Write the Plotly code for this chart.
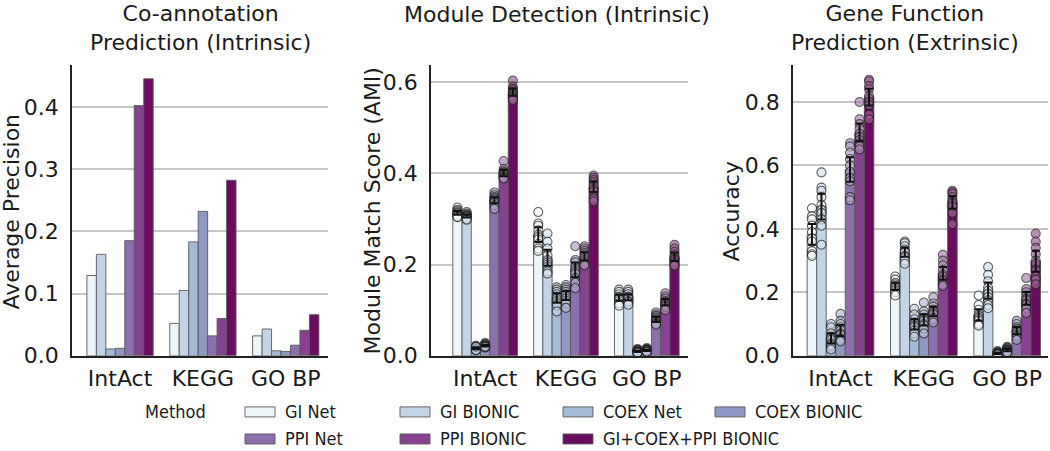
import numpy as np
import plotly.graph_objects as go

# The photographed area turned out to be ~465 CSS px tall, squeezed to 451,
# so the figure is 1050x465 and positions are given in reference pixels (of 451).
W, H_REF = 1050, 451
H = 465

categories = ["IntAct", "KEGG", "GO BP"]
methods = ["GI Net", "GI BIONIC", "COEX Net", "COEX BIONIC",
           "PPI Net", "PPI BIONIC", "GI+COEX+PPI BIONIC"]
colors = ["#eef5f9", "#c3d4e7", "#a3bbd6", "#8f98c4",
          "#8b70ad", "#85428f", "#6a0d60"]

# Panel 1: Co-annotation prediction, average precision (one value per method)
ap_intact = [0.129, 0.163, 0.011, 0.012, 0.185, 0.402, 0.445]
ap_kegg = [0.052, 0.105, 0.183, 0.232, 0.032, 0.060, 0.282]
ap_gobp = [0.032, 0.043, 0.008, 0.007, 0.017, 0.041, 0.066]

# Panel 2: Module detection, AMI per trial (methods x trials)
ami_intact = [
    [0.325, 0.320, 0.318, 0.315, 0.313, 0.312, 0.310, 0.308, 0.305, 0.304],
    [0.315, 0.312, 0.310, 0.308, 0.307, 0.306, 0.305, 0.303, 0.300, 0.298],
    [0.022, 0.020, 0.018, 0.017, 0.016, 0.015, 0.014, 0.013, 0.012, 0.020],
    [0.028, 0.026, 0.024, 0.023, 0.022, 0.021, 0.020, 0.019, 0.018, 0.020],
    [0.358, 0.352, 0.348, 0.345, 0.343, 0.340, 0.338, 0.335, 0.330, 0.322],
    [0.427, 0.410, 0.405, 0.402, 0.400, 0.398, 0.395, 0.392, 0.390, 0.388],
    [0.603, 0.590, 0.585, 0.582, 0.578, 0.575, 0.572, 0.568, 0.565, 0.560],
]
ami_kegg = [
    [0.315, 0.290, 0.285, 0.275, 0.265, 0.260, 0.255, 0.245, 0.235, 0.230],
    [0.268, 0.250, 0.235, 0.220, 0.210, 0.205, 0.200, 0.195, 0.185, 0.180],
    [0.150, 0.145, 0.140, 0.135, 0.130, 0.125, 0.120, 0.115, 0.110, 0.097],
    [0.155, 0.150, 0.145, 0.140, 0.135, 0.130, 0.125, 0.120, 0.115, 0.105],
    [0.240, 0.210, 0.205, 0.195, 0.190, 0.185, 0.180, 0.170, 0.160, 0.148],
    [0.240, 0.235, 0.230, 0.225, 0.220, 0.215, 0.210, 0.205, 0.200, 0.198],
    [0.395, 0.390, 0.385, 0.380, 0.375, 0.370, 0.365, 0.360, 0.345, 0.338],
]
ami_gobp = [
    [0.145, 0.140, 0.135, 0.130, 0.128, 0.126, 0.124, 0.120, 0.115, 0.110],
    [0.145, 0.140, 0.135, 0.130, 0.128, 0.127, 0.125, 0.120, 0.118, 0.112],
    [0.015, 0.013, 0.012, 0.011, 0.010, 0.009, 0.008, 0.008, 0.007, 0.007],
    [0.017, 0.015, 0.014, 0.013, 0.012, 0.011, 0.010, 0.010, 0.009, 0.009],
    [0.095, 0.090, 0.087, 0.083, 0.080, 0.078, 0.075, 0.072, 0.070, 0.068],
    [0.137, 0.130, 0.125, 0.120, 0.118, 0.115, 0.113, 0.110, 0.107, 0.100],
    [0.243, 0.235, 0.228, 0.222, 0.217, 0.213, 0.210, 0.205, 0.200, 0.197],
]

# Panel 3: Gene function prediction, accuracy per trial (methods x trials)
acc_intact = [
    [0.465, 0.440, 0.430, 0.410, 0.390, 0.370, 0.360, 0.330, 0.320, 0.315],
    [0.578, 0.530, 0.520, 0.500, 0.475, 0.460, 0.450, 0.430, 0.410, 0.350],
    [0.100, 0.090, 0.070, 0.060, 0.055, 0.050, 0.040, 0.035, 0.030, 0.020],
    [0.132, 0.110, 0.100, 0.090, 0.080, 0.070, 0.065, 0.055, 0.050, 0.045],
    [0.670, 0.660, 0.640, 0.620, 0.600, 0.580, 0.560, 0.550, 0.500, 0.490],
    [0.800, 0.745, 0.730, 0.715, 0.700, 0.690, 0.680, 0.670, 0.660, 0.650],
    [0.870, 0.865, 0.850, 0.840, 0.820, 0.810, 0.800, 0.790, 0.760, 0.745],
]
acc_kegg = [
    [0.250, 0.240, 0.230, 0.225, 0.220, 0.215, 0.210, 0.205, 0.200, 0.190],
    [0.360, 0.355, 0.345, 0.335, 0.330, 0.325, 0.315, 0.310, 0.300, 0.290],
    [0.148, 0.130, 0.115, 0.105, 0.100, 0.095, 0.090, 0.080, 0.070, 0.060],
    [0.168, 0.140, 0.130, 0.120, 0.115, 0.110, 0.100, 0.095, 0.085, 0.070],
    [0.185, 0.165, 0.155, 0.145, 0.140, 0.135, 0.130, 0.120, 0.115, 0.105],
    [0.318, 0.300, 0.285, 0.270, 0.255, 0.250, 0.240, 0.235, 0.225, 0.220],
    [0.520, 0.515, 0.510, 0.500, 0.490, 0.485, 0.480, 0.470, 0.450, 0.415],
]
acc_gobp = [
    [0.190, 0.160, 0.145, 0.130, 0.125, 0.120, 0.115, 0.110, 0.100, 0.095],
    [0.280, 0.255, 0.235, 0.215, 0.205, 0.195, 0.185, 0.175, 0.160, 0.150],
    [0.015, 0.012, 0.010, 0.009, 0.008, 0.007, 0.006, 0.005, 0.004, 0.004],
    [0.028, 0.025, 0.022, 0.020, 0.018, 0.017, 0.015, 0.013, 0.012, 0.010],
    [0.110, 0.100, 0.090, 0.085, 0.080, 0.078, 0.072, 0.065, 0.060, 0.050],
    [0.245, 0.210, 0.200, 0.190, 0.180, 0.175, 0.165, 0.160, 0.150, 0.135],
    [0.385, 0.360, 0.340, 0.320, 0.300, 0.290, 0.270, 0.250, 0.240, 0.225],
]

panel_titles = ["Co-annotation<br>Prediction (Intrinsic)",
                "Module Detection (Intrinsic)",
                "Gene Function<br>Prediction (Extrinsic)"]
y_titles = ["Average Precision", "Module Match Score (AMI)", "Accuracy"]
y_ticks = [[0.0, 0.1, 0.2, 0.3, 0.4], [0.0, 0.2, 0.4, 0.6], [0.0, 0.2, 0.4, 0.6, 0.8]]
y_ranges = [[0, 0.467], [0, 0.637], [0, 0.916]]


# ---------------- layout geometry (reference pixels -> paper) ----------------
def px_x(x):
    return x / W


def px_y(y):
    return 1 - y / H_REF


ax_px = [(72, 328), (431, 688), (793, 1048)]
x_ranges = [[-0.58, 2.51], [-0.67, 2.51], [-0.57, 2.49]]
top_px, bot_px = 65, 355
FONT = "DejaVu Sans"
TXT = "#1a1a1a"
FS = 22

n_m = len(methods)
bw = 0.8 / n_m


def lighten(hexc, f):
    h = hexc.lstrip("#")
    r, g, b = (int(h[i:i + 2], 16) for i in (0, 2, 4))
    r = int(r + (255 - r) * f)
    g = int(g + (255 - g) * f)
    b = int(b + (255 - b) * f)
    return f"rgb({r},{g},{b})"


fig = go.Figure()
EDGE = "rgba(90,90,90,0.9)"

# Panel 1 bars
ap_by_cat = [ap_intact, ap_kegg, ap_gobp]
for j, m in enumerate(methods):
    xs = [i + (j - (n_m - 1) / 2) * bw for i in range(len(categories))]
    fig.add_trace(go.Bar(
        x=xs, y=[ap_by_cat[i][j] for i in range(len(categories))],
        width=bw, marker=dict(color=colors[j], line=dict(color=EDGE, width=1)),
        name=m, showlegend=False, xaxis="x", yaxis="y"))

# Panels 2 and 3: bars + points + CI
for p, (data_cats, xa, ya) in enumerate([
        ([ami_intact, ami_kegg, ami_gobp], "x2", "y2"),
        ([acc_intact, acc_kegg, acc_gobp], "x3", "y3")]):
    for j, m in enumerate(methods):
        xs = [i + (j - (n_m - 1) / 2) * bw for i in range(len(categories))]
        vals = [np.array(data_cats[i][j]) for i in range(len(categories))]
        means = [float(v.mean()) for v in vals]
        ci = [float(1.96 * v.std(ddof=1) / np.sqrt(len(v))) for v in vals]
        fig.add_trace(go.Bar(
            x=xs, y=means, width=bw,
            marker=dict(color=colors[j], line=dict(color=EDGE, width=1)),
            name=m, showlegend=False, xaxis=xa, yaxis=ya))
        px_, py_ = [], []
        for i in range(len(categories)):
            px_ += [xs[i]] * len(vals[i])
            py_ += list(vals[i])
        fig.add_trace(go.Scatter(
            x=px_, y=py_, mode="markers",
            marker=dict(size=9, color=lighten(colors[j], 0.35), opacity=0.7,
                        line=dict(color="#222222", width=1.1)),
            showlegend=False, xaxis=xa, yaxis=ya, hoverinfo="skip"))
        fig.add_trace(go.Scatter(
            x=xs, y=means, mode="markers", marker=dict(size=1, color="rgba(0,0,0,0)"),
            error_y=dict(type="data", array=ci, color="#111111", thickness=2, width=4),
            showlegend=False, xaxis=xa, yaxis=ya, hoverinfo="skip"))

layout = dict(
    width=W, height=H, margin=dict(l=0, r=0, t=0, b=0),
    paper_bgcolor="white", plot_bgcolor="white",
    barmode="overlay", font=dict(family=FONT, color=TXT, size=FS),
    showlegend=False,
)
for k in range(3):
    sx = "" if k == 0 else str(k + 1)
    layout["xaxis" + sx] = dict(
        domain=[px_x(ax_px[k][0]), min(1.0, px_x(ax_px[k][1]))], range=x_ranges[k],
        anchor="y" + sx, tickvals=[0, 1, 2], ticktext=categories,
        showline=True, linecolor="#222222", linewidth=1.5, showgrid=False,
        ticks="outside", ticklen=2, tickcolor="rgba(0,0,0,0)",
        tickfont=dict(size=FS, family=FONT, color=TXT), zeroline=False, fixedrange=True)
    layout["yaxis" + sx] = dict(
        domain=[px_y(bot_px), px_y(top_px)], range=y_ranges[k], anchor="x" + sx,
        tickvals=y_ticks[k], ticktext=[f"{v:.1f}" for v in y_ticks[k]],
        showline=True, linecolor="#222222", linewidth=1.5,
        showgrid=True, gridcolor="#c4c4c4", gridwidth=1.5,
        ticks="outside", ticklen=7, tickcolor="rgba(0,0,0,0)",
        tickfont=dict(size=FS, family=FONT, color=TXT), zeroline=False, fixedrange=True)

fig.update_layout(**layout)

annotations = []
title_cx = [200, 557, 905]
title_cy = [28, 14, 28]
for k in range(3):
    annotations.append(dict(
        text=panel_titles[k], x=px_x(title_cx[k]), y=px_y(title_cy[k]),
        xref="paper", yref="paper", showarrow=False, xanchor="center", yanchor="middle",
        font=dict(size=FS, family=FONT, color=TXT)))
ytitle_cx = [11, 372, 731]
for k in range(3):
    annotations.append(dict(
        text=y_titles[k], x=px_x(ytitle_cx[k]), y=px_y((top_px + bot_px) / 2 + 1),
        xref="paper", yref="paper", showarrow=False, textangle=-90,
        xanchor="center", yanchor="middle",
        font=dict(size=FS, family=FONT, color=TXT)))

# Custom legend (swatches + labels)
LEGFONT = "DejaVu Sans Condensed"
LFS = 18
annotations.append(dict(
    text="Method", x=px_x(143), y=px_y(411), xref="paper", yref="paper",
    showarrow=False, xanchor="left", yanchor="middle",
    font=dict(size=LFS, family=LEGFONT, color=TXT)))
col_x = [245, 400, 563, 715]
row_y = [411, 438]
shapes = []
for j, m in enumerate(methods):
    r, c = (0, j) if j < 4 else (1, j - 4)
    x0 = col_x[c]
    yc = row_y[r]
    shapes.append(dict(
        type="rect", xref="paper", yref="paper",
        x0=px_x(x0), x1=px_x(x0 + 30), y0=px_y(yc + 5), y1=px_y(yc - 5),
        fillcolor=colors[j], line=dict(color=EDGE, width=1)))
    annotations.append(dict(
        text=m, x=px_x(x0 + 38), y=px_y(yc), xref="paper", yref="paper",
        showarrow=False, xanchor="left", yanchor="middle",
        font=dict(size=LFS, family=LEGFONT, color=TXT)))

fig.update_layout(annotations=annotations, shapes=shapes)
fig.write_html(
    "out.html",
    config={"displayModeBar": False},
    post_script=(
        "document.documentElement.style.margin='0px';"
        "document.body.style.margin='0px';"
    ),
)
